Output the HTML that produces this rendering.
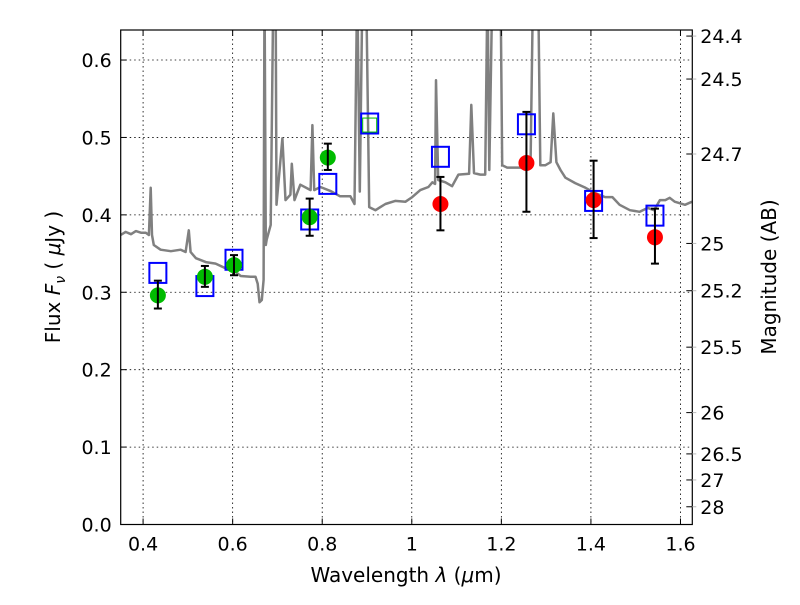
<!DOCTYPE html>
<html><head><meta charset="utf-8"><style>
body{margin:0;background:#fff}
svg text{font-family:"DejaVu Sans","Liberation Sans",sans-serif;fill:#000}
</style></head><body>
<svg id="chart" width="800" height="600" xmlns="http://www.w3.org/2000/svg">
<defs><clipPath id="clip"><rect x="120.7" y="30" width="571.6" height="494.5"/></clipPath></defs>
<rect x="0" y="0" width="800" height="600" fill="#fff"/>
<g id="grid"></g>
<g id="spec" clip-path="url(#clip)"></g>
<g id="marks"></g>
<rect x="120.7" y="30" width="571.6" height="494.5" fill="none" stroke="#000" stroke-width="1.2"/>
<g id="axes"></g>
<text x="406" y="582" font-size="20" text-anchor="middle">Wavelength  <tspan font-style="italic">λ</tspan> (<tspan font-style="italic">μ</tspan>m)</text>
<text transform="translate(60,277) rotate(-90)" font-size="20" text-anchor="middle">Flux  <tspan font-style="italic">F</tspan><tspan font-style="italic" font-size="14" dy="5">ν</tspan><tspan dy="-5">  ( </tspan><tspan font-style="italic">μ</tspan>Jy )</text>
<text transform="translate(776,277) rotate(-90)" font-size="20" text-anchor="middle">Magnitude (AB)</text>
</svg>
<script>
const xTicks=[0.4,0.6,0.8,1,1.2,1.4,1.6];
const xTickLabels=["0.4","0.6","0.8","1","1.2","1.4","1.6"];
const yTicks=[0,0.1,0.2,0.3,0.4,0.5,0.6];
const yTickLabels=["0.0","0.1","0.2","0.3","0.4","0.5","0.6"];
const magTicks=[24.4,24.5,24.7,25,25.2,25.5,26,26.5,27,28];
const magTickLabels=["24.4","24.5","24.7","25","25.2","25.5","26","26.5","27","28"];
const specLam=[0.350,0.361,0.373,0.384,0.395,0.406,0.413,0.417,0.420,0.424,0.439,0.462,0.484,0.495,0.502,0.506,0.518,0.540,0.562,0.584,0.607,0.618,0.640,0.651,0.656,0.660,0.665,0.669,0.671,0.674,0.676,0.685,0.691,0.696,0.698,0.711,0.718,0.729,0.732,0.738,0.751,0.774,0.778,0.782,0.796,0.818,0.840,0.863,0.872,0.878,0.884,0.890,0.898,0.905,0.919,0.930,0.941,0.963,0.986,1.001,1.019,1.037,1.046,1.052,1.054,1.059,1.075,1.090,1.104,1.128,1.133,1.139,1.153,1.164,1.169,1.173,1.180,1.188,1.198,1.202,1.213,1.220,1.265,1.271,1.282,1.287,1.298,1.310,1.316,1.323,1.332,1.343,1.365,1.388,1.410,1.432,1.448,1.464,1.487,1.509,1.527,1.541,1.554,1.566,1.576,1.587,1.610,1.626];
const specFlux=[0.374,0.378,0.375,0.379,0.377,0.377,0.374,0.435,0.374,0.361,0.355,0.353,0.355,0.352,0.380,0.352,0.344,0.339,0.337,0.331,0.326,0.321,0.320,0.320,0.311,0.287,0.290,0.316,0.7,0.361,0.368,0.387,0.7,0.7,0.413,0.499,0.419,0.426,0.466,0.419,0.439,0.432,0.516,0.432,0.436,0.431,0.424,0.424,0.414,0.7,0.43,0.7,0.7,0.410,0.406,0.410,0.414,0.418,0.417,0.423,0.432,0.436,0.442,0.44,0.574,0.445,0.442,0.437,0.452,0.453,0.542,0.454,0.452,0.452,0.7,0.458,0.7,0.7,0.7,0.464,0.461,0.461,0.461,0.7,0.7,0.464,0.464,0.468,0.531,0.468,0.458,0.448,0.441,0.435,0.428,0.423,0.423,0.413,0.406,0.404,0.409,0.406,0.419,0.419,0.422,0.417,0.413,0.417];
const greenLam=[0.433,0.538,0.603,0.772,0.8125];
const greenFlux=[0.296,0.320,0.335,0.397,0.474];
const greenLo=[0.279,0.307,0.322,0.373,0.458];
const greenHi=[0.315,0.334,0.348,0.421,0.492];
const redLam=[1.064,1.256,1.406,1.543];
const redFlux=[0.414,0.467,0.419,0.371];
const redLo=[0.380,0.404,0.370,0.337];
const redHi=[0.449,0.533,0.470,0.408];
const modelLam=[0.433,0.538,0.603,0.772,0.8125,0.906,1.064,1.256,1.406,1.543];
const modelFlux=[0.325,0.308,0.342,0.394,0.440,0.518,0.475,0.517,0.418,0.399];
const hiddenLam=[0.906];
const hiddenFlux=[0.516];

const X0=120.7,X1=692.3,Y0=524.5,Y1=30,xmin=0.35,xmax=1.6264,ymin=0,ymax=0.6388;
const sx=v=>X0+(v-xmin)/(xmax-xmin)*(X1-X0);
const sy=v=>Y0-(v-ymin)/(ymax-ymin)*(Y0-Y1);
const NS="http://www.w3.org/2000/svg";
function mk(tag,parent,attrs){const e=document.createElementNS(NS,tag);for(const k in attrs)e.setAttribute(k,attrs[k]);parent.appendChild(e);return e;}
const grid=document.getElementById('grid'),axes=document.getElementById('axes'),spec=document.getElementById('spec'),marks=document.getElementById('marks');
xTicks.forEach((t,i)=>{const x=sx(t);
 let g=mk('line',grid,{x1:x,x2:x,y1:Y1,y2:Y0,stroke:'#000','stroke-width':0.8,'stroke-dasharray':'1.5,3'});
 
 
 mk('line',axes,{x1:x,x2:x,y1:Y0,y2:Y0-6,stroke:'#000'});
 mk('line',axes,{x1:x,x2:x,y1:Y1,y2:Y1+6,stroke:'#000'});
 let l=mk('text',axes,{x:x,y:Y0+26,'font-size':19,'text-anchor':'middle'});l.textContent=xTickLabels[i];
 
 
});
yTicks.forEach((t,i)=>{const y=sy(t);
 if(t>0){let g=mk('line',grid,{x1:X0,x2:X1,y1:y,y2:y,stroke:'#000','stroke-width':0.8,'stroke-dasharray':'1.5,3'});
 
 }
 mk('line',axes,{x1:X0,x2:X0+6,y1:y,y2:y,stroke:'#000'});
 let l=mk('text',axes,{x:X0-9,y:y+7,'font-size':19,'text-anchor':'end'});l.textContent=yTickLabels[i];
 
 
});
magTicks.forEach((m,i)=>{const f=Math.pow(10,(23.9-m)/2.5);const y=sy(f);
 mk('line',axes,{x1:X1,x2:X1-6,y1:y,y2:y,stroke:'#000'});
 mk('line',axes,{x1:X1,x2:X1+4,y1:y,y2:y,stroke:'#bbb'});
 let l=mk('text',axes,{x:X1+8,y:y+7,'font-size':19});l.textContent=magTickLabels[i];
 
 
});
let d=specLam.map((v,i)=>(i?'L':'M')+sx(v).toFixed(1)+','+sy(specFlux[i]).toFixed(1)).join('');
let p=mk('path',spec,{d:d,fill:'none',stroke:'#808080','stroke-width':2.5,'stroke-linejoin':'round'});


function errbar(x,lo,hi){const g=mk('g',marks,{stroke:'#000','stroke-width':2});
 
 
 mk('line',g,{x1:x,x2:x,y1:sy(lo),y2:sy(hi)});
 mk('line',g,{x1:x-4,x2:x+4,y1:sy(lo),y2:sy(lo)});
 mk('line',g,{x1:x-4,x2:x+4,y1:sy(hi),y2:sy(hi)});}
modelLam.forEach((v,i)=>{let r=mk('rect',marks,{x:sx(v)-8.5,y:sy(modelFlux[i])-10,width:17,height:20,fill:'none',stroke:'#0000ff','stroke-width':2});
 
 });
hiddenLam.forEach((v,i)=>{let r=mk('rect',marks,{x:sx(v)-7,y:sy(hiddenFlux[i])-7,width:14,height:14,fill:'none',stroke:'#00bb00','stroke-width':1});
 
 });
greenLam.forEach((v,i)=>{let c=mk('circle',marks,{cx:sx(v),cy:sy(greenFlux[i]),r:8,fill:'#00bb00'});
 
 
 errbar(sx(v),greenLo[i],greenHi[i]);});
redLam.forEach((v,i)=>{let c=mk('circle',marks,{cx:sx(v),cy:sy(redFlux[i]),r:8,fill:'#ff0000'});
 
 
 errbar(sx(v),redLo[i],redHi[i]);});
</script>
</body></html>
